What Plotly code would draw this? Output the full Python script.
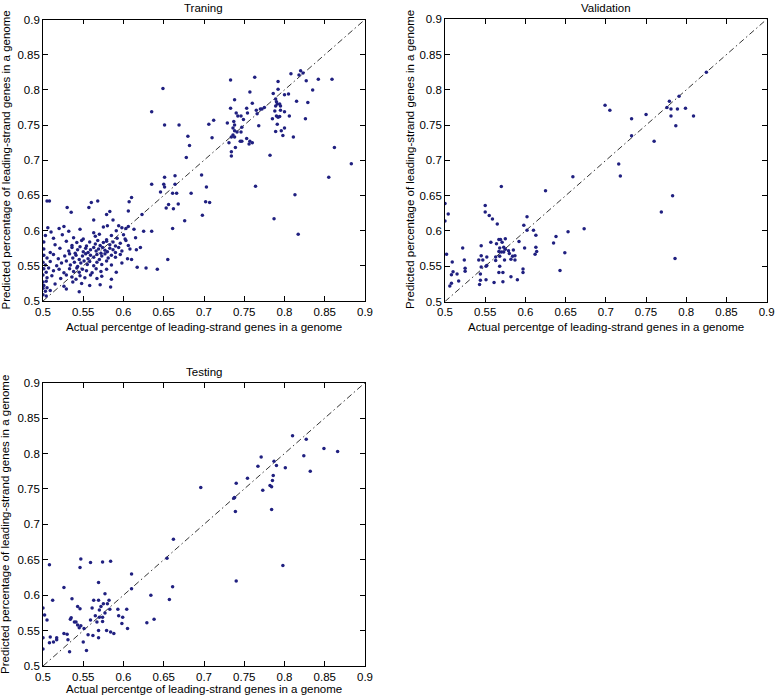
import plotly.graph_objects as go

# ---------------- data ----------------
tick_vals = [0.5, 0.55, 0.6, 0.65, 0.7, 0.75, 0.8, 0.85, 0.9]
tick_text = ["0.5", "0.55", "0.6", "0.65", "0.7", "0.75", "0.8", "0.85", "0.9"]

panel_titles = ["Traning", "Validation", "Testing"]
x_label = "Actual percentge of leading-strand genes in a genome"
y_label = "Predicted percentage of leading-strand genes in a genome"

# Training: high group / outliers
train_hi_x = [0.649, 0.635, 0.651, 0.669, 0.680, 0.682, 0.678,
              0.733, 0.763, 0.808, 0.818, 0.820, 0.823, 0.792, 0.827, 0.842, 0.859,
              0.757, 0.792, 0.786, 0.800, 0.805, 0.835, 0.738, 0.789, 0.815, 0.829,
              0.760, 0.790, 0.791, 0.794, 0.733, 0.753, 0.765, 0.770, 0.772, 0.775,
              0.789, 0.795, 0.788, 0.795, 0.800, 0.740, 0.754, 0.742, 0.746, 0.766,
              0.790, 0.792, 0.794, 0.806, 0.785, 0.749, 0.712, 0.729, 0.737, 0.706,
              0.738, 0.791, 0.826, 0.736, 0.747, 0.768, 0.800, 0.738, 0.741, 0.746,
              0.789, 0.796, 0.734, 0.736, 0.738, 0.798, 0.811, 0.753, 0.710, 0.745,
              0.747, 0.757, 0.731, 0.756, 0.760, 0.739, 0.862, 0.734, 0.734, 0.782,
              0.883,
              0.697, 0.703, 0.764, 0.855, 0.813, 0.702, 0.707, 0.698, 0.787, 0.817]
train_hi_y = [0.802, 0.769, 0.750, 0.750, 0.734, 0.721, 0.704,
              0.814, 0.818, 0.823, 0.821, 0.827, 0.824, 0.812, 0.813, 0.815, 0.815,
              0.797, 0.801, 0.795, 0.793, 0.794, 0.800, 0.786, 0.787, 0.784, 0.782,
              0.781, 0.783, 0.780, 0.780, 0.774, 0.774, 0.771, 0.773, 0.773, 0.775,
              0.777, 0.777, 0.770, 0.771, 0.769, 0.767, 0.767, 0.763, 0.763, 0.766,
              0.763, 0.761, 0.762, 0.763, 0.759, 0.758, 0.757, 0.753, 0.755, 0.751,
              0.750, 0.751, 0.759, 0.746, 0.747, 0.749, 0.746, 0.742, 0.740, 0.740,
              0.741, 0.742, 0.733, 0.736, 0.733, 0.735, 0.733, 0.731, 0.732, 0.727,
              0.727, 0.727, 0.725, 0.723, 0.725, 0.718, 0.718, 0.712, 0.706, 0.707,
              0.695,
              0.679, 0.662, 0.663, 0.676, 0.651, 0.641, 0.640, 0.622, 0.617, 0.595]

# Training: middle zone
train_mid_x = [0.651, 0.664, 0.635, 0.650, 0.651, 0.664, 0.646, 0.661, 0.666, 0.684,
               0.610, 0.607, 0.668, 0.656, 0.653, 0.662, 0.676, 0.606, 0.623, 0.635,
               0.661, 0.625, 0.613, 0.606, 0.615, 0.621, 0.616, 0.655, 0.628, 0.642,
               0.617, 0.610,
               0.505, 0.508, 0.530, 0.560, 0.568, 0.557, 0.535, 0.583, 0.579, 0.563,
               0.587, 0.580, 0.594, 0.598, 0.603]
train_mid_y = [0.676, 0.678, 0.666, 0.666, 0.662, 0.666, 0.655, 0.653, 0.653, 0.653,
               0.647, 0.641, 0.638, 0.637, 0.632, 0.631, 0.614, 0.628, 0.623, 0.599,
               0.603, 0.599, 0.602, 0.606, 0.590, 0.576, 0.573, 0.559, 0.547, 0.545,
               0.548, 0.559,
               0.642, 0.642, 0.633, 0.640, 0.642, 0.633, 0.626, 0.627, 0.623, 0.615,
               0.615, 0.607, 0.607, 0.604, 0.603]

# Training: dense cluster
train_low_x = [0.506, 0.510, 0.520, 0.526, 0.532, 0.546, 0.563, 0.575, 0.591,
               0.503, 0.513, 0.524, 0.538, 0.550, 0.565, 0.570, 0.579, 0.585, 0.592, 0.600, 0.602,
               0.501, 0.515, 0.529, 0.536, 0.542, 0.548, 0.554, 0.558, 0.565, 0.568, 0.571, 0.575,
               0.579, 0.583, 0.587, 0.590, 0.596, 0.603, 0.606,
               0.501, 0.509, 0.521, 0.532, 0.536, 0.540, 0.543, 0.546, 0.550, 0.553, 0.556, 0.559,
               0.563, 0.566, 0.569, 0.572, 0.574, 0.577, 0.580, 0.583, 0.587, 0.590, 0.594, 0.598, 0.608,
               0.501, 0.505, 0.513, 0.519, 0.527, 0.533, 0.537, 0.541, 0.545, 0.549, 0.553, 0.556,
               0.559, 0.563, 0.567, 0.570, 0.573, 0.577, 0.581, 0.585, 0.590, 0.596, 0.605,
               0.500, 0.503, 0.509, 0.517, 0.523, 0.529, 0.534, 0.539, 0.543, 0.547, 0.551, 0.555,
               0.558, 0.563, 0.567, 0.573, 0.579, 0.585, 0.598,
               0.501, 0.504, 0.507, 0.513, 0.520, 0.526, 0.533, 0.538, 0.542, 0.545, 0.549, 0.554,
               0.561, 0.566, 0.572, 0.579, 0.591,
               0.500, 0.505, 0.511, 0.522, 0.529, 0.536, 0.541, 0.546, 0.552, 0.559, 0.567, 0.573, 0.585,
               0.500, 0.501, 0.504, 0.515, 0.526, 0.537, 0.548, 0.558, 0.571, 0.584,
               0.500, 0.503, 0.505, 0.509, 0.529, 0.545,
               0.500, 0.504]
train_low_y = [0.604, 0.598, 0.603, 0.606, 0.599, 0.602, 0.597, 0.605, 0.600,
               0.593, 0.589, 0.594, 0.590, 0.588, 0.592, 0.595, 0.587, 0.593, 0.589, 0.594, 0.588,
               0.584, 0.580, 0.585, 0.579, 0.583, 0.586, 0.578, 0.584, 0.581, 0.586, 0.579, 0.583,
               0.585, 0.580, 0.584, 0.578, 0.582, 0.586, 0.579,
               0.574, 0.569, 0.575, 0.571, 0.576, 0.568, 0.573, 0.577, 0.570, 0.575, 0.569, 0.573,
               0.576, 0.571, 0.574, 0.568, 0.576, 0.572, 0.570, 0.575, 0.573, 0.569, 0.576, 0.571, 0.574,
               0.565, 0.561, 0.566, 0.560, 0.564, 0.567, 0.561, 0.565, 0.559, 0.564, 0.567, 0.560,
               0.565, 0.562, 0.566, 0.559, 0.564, 0.567, 0.561, 0.565, 0.562, 0.566, 0.560,
               0.555, 0.551, 0.556, 0.550, 0.554, 0.557, 0.551, 0.555, 0.549, 0.554, 0.557, 0.552,
               0.556, 0.550, 0.555, 0.552, 0.557, 0.551, 0.554,
               0.546, 0.541, 0.547, 0.543, 0.545, 0.540, 0.546, 0.542, 0.547, 0.541, 0.545, 0.543,
               0.540, 0.546, 0.542, 0.545, 0.541,
               0.537, 0.533, 0.536, 0.532, 0.537, 0.534, 0.531, 0.536, 0.533, 0.537, 0.532, 0.535, 0.531,
               0.527, 0.522, 0.528, 0.524, 0.521, 0.527, 0.525, 0.522, 0.523, 0.520,
               0.518, 0.514, 0.519, 0.515, 0.517, 0.513,
               0.509, 0.507]

# Validation
valid_x = [0.699, 0.705, 0.732, 0.750, 0.732, 0.760, 0.779, 0.791, 0.776, 0.781, 0.789, 0.799,
           0.781, 0.809, 0.787, 0.825, 0.716, 0.718, 0.783, 0.769, 0.786,
           0.659, 0.570, 0.625, 0.500, 0.504, 0.500, 0.550, 0.550, 0.555, 0.559, 0.565, 0.602,
           0.598, 0.602, 0.610, 0.613, 0.653, 0.673, 0.638, 0.635, 0.649, 0.643, 0.613, 0.614,
           0.612, 0.599, 0.592, 0.575, 0.567, 0.569, 0.571, 0.564, 0.557, 0.545, 0.522, 0.502,
           0.568, 0.573, 0.567, 0.570, 0.573, 0.575, 0.579, 0.585, 0.587, 0.584, 0.582, 0.587,
           0.580, 0.563, 0.568, 0.574, 0.563, 0.552, 0.542, 0.547, 0.545, 0.524, 0.509, 0.545,
           0.551, 0.552, 0.525, 0.525, 0.515, 0.510, 0.508, 0.568, 0.597, 0.597, 0.567, 0.572,
           0.582, 0.544, 0.544, 0.543, 0.551, 0.561, 0.572, 0.590, 0.517, 0.508, 0.506]
valid_y = [0.778, 0.771, 0.759, 0.765, 0.735, 0.727, 0.784, 0.791, 0.775, 0.773, 0.773, 0.774,
           0.763, 0.763, 0.749, 0.825, 0.695, 0.678, 0.650, 0.627, 0.561,
           0.677, 0.663, 0.657, 0.639, 0.624, 0.614, 0.636, 0.627, 0.622, 0.617, 0.610, 0.620,
           0.608, 0.601, 0.601, 0.594, 0.599, 0.603, 0.592, 0.583, 0.569, 0.544, 0.577, 0.571,
           0.567, 0.576, 0.585, 0.589, 0.588, 0.588, 0.584, 0.582, 0.584, 0.579, 0.576, 0.567,
           0.576, 0.577, 0.571, 0.570, 0.570, 0.574, 0.572, 0.573, 0.565, 0.564, 0.560, 0.559,
           0.568, 0.563, 0.564, 0.559, 0.558, 0.563, 0.559, 0.559, 0.565, 0.559, 0.556, 0.549,
           0.550, 0.551, 0.547, 0.543, 0.539, 0.542, 0.538, 0.550, 0.546, 0.541, 0.541, 0.541,
           0.535, 0.539, 0.530, 0.524, 0.531, 0.527, 0.528, 0.531, 0.529, 0.526, 0.522]

# Testing
test_x = [0.696, 0.662, 0.810, 0.827, 0.849, 0.866, 0.824, 0.771, 0.787, 0.790, 0.767, 0.801,
          0.832, 0.786, 0.785, 0.754, 0.740, 0.782, 0.784, 0.773, 0.738, 0.737, 0.739, 0.784,
          0.740, 0.798,
          0.654, 0.547, 0.508, 0.546, 0.559, 0.574, 0.584, 0.610, 0.569, 0.526, 0.610, 0.661,
          0.577, 0.634, 0.657, 0.512, 0.536, 0.563, 0.569, 0.582, 0.580, 0.575, 0.543, 0.546,
          0.561, 0.500, 0.572, 0.570, 0.583, 0.593, 0.604, 0.502, 0.505, 0.577, 0.594, 0.599,
          0.565, 0.535, 0.534, 0.559, 0.570, 0.574, 0.574, 0.567, 0.598, 0.539, 0.541, 0.543,
          0.547, 0.545, 0.605, 0.629, 0.638, 0.551, 0.569, 0.579, 0.584, 0.588, 0.526, 0.530,
          0.556, 0.562, 0.569, 0.500, 0.509, 0.517, 0.517, 0.513, 0.508, 0.550, 0.531, 0.500,
          0.554, 0.533]
test_y = [0.752, 0.679, 0.825, 0.820, 0.807, 0.803, 0.797, 0.795, 0.789, 0.783, 0.782, 0.780,
          0.775, 0.769, 0.762, 0.765, 0.758, 0.755, 0.753, 0.748, 0.738, 0.737, 0.718, 0.721,
          0.620, 0.642,
          0.652, 0.651, 0.643, 0.639, 0.646, 0.647, 0.648, 0.630, 0.618, 0.611, 0.609, 0.612,
          0.602, 0.600, 0.594, 0.593, 0.595, 0.593, 0.593, 0.593, 0.588, 0.588, 0.584, 0.581,
          0.582, 0.582, 0.584, 0.579, 0.580, 0.580, 0.580, 0.572, 0.565, 0.575, 0.571, 0.569,
          0.571, 0.568, 0.566, 0.565, 0.569, 0.569, 0.563, 0.562, 0.560, 0.562, 0.562, 0.558,
          0.557, 0.554, 0.553, 0.561, 0.566, 0.553, 0.550, 0.550, 0.548, 0.546, 0.546, 0.545,
          0.544, 0.543, 0.540, 0.540, 0.541, 0.540, 0.537, 0.534, 0.533, 0.534, 0.537, 0.524,
          0.522, 0.520]

diag = [0.5, 0.9]

# ---------------- figure ----------------
DOT = "rgb(32,32,128)"
FONT = "Liberation Sans, Arial, Helvetica, sans-serif"
FS = 11.5

fig = go.Figure()

panels = [
    (train_hi_x + train_mid_x + train_low_x, train_hi_y + train_mid_y + train_low_y, "x", "y"),
    (valid_x, valid_y, "x2", "y2"),
    (test_x, test_y, "x3", "y3"),
]
for px_, py_, xa, ya in panels:
    fig.add_trace(go.Scatter(x=diag, y=diag, mode="lines", xaxis=xa, yaxis=ya,
                             line=dict(color="black", width=0.8, dash="6px,3px,1.5px,3px"),
                             hoverinfo="skip", showlegend=False))
    fig.add_trace(go.Scatter(x=px_, y=py_, mode="markers", xaxis=xa, yaxis=ya,
                             marker=dict(color=DOT, size=3.5, line=dict(width=0)),
                             showlegend=False))

W, H = 777, 697
xd = {"1": [43 / W, 365 / W], "2": [445 / W, 766.7 / W], "3": [43 / W, 365 / W]}
yd = {"1": [1 - 301 / H, 1 - 19.5 / H], "2": [1 - 301.5 / H, 1 - 19.3 / H], "3": [1 - 666 / H, 1 - 382.7 / H]}

axis_common = dict(range=[0.5, 0.9], tickvals=tick_vals, ticktext=tick_text,
                   ticks="inside", ticklen=5, tickcolor="black", tickwidth=0.8,
                   showline=True, linecolor="black", linewidth=0.8, mirror="ticks",
                   showgrid=False, zeroline=False, automargin=False,
                   tickfont=dict(family=FONT, size=FS, color="black"))

layout = dict(template="none", width=W, height=H, margin=dict(l=0, r=0, t=0, b=0),
              paper_bgcolor="white", plot_bgcolor="white",
              font=dict(family=FONT, size=FS, color="black"))
for i in ["1", "2", "3"]:
    sx = "" if i == "1" else i
    layout["xaxis" + sx] = dict(axis_common, domain=xd[i], anchor="y" + sx)
    layout["yaxis" + sx] = dict(axis_common, domain=yd[i], anchor="x" + sx)
fig.update_layout(**layout)

cx = [(43 + 365) / 2 / W, (445 + 766.7) / 2 / W, (43 + 365) / 2 / W]
title_y = [1 - 8 / H, 1 - 8 / H, 1 - 372 / H]
xlab_y = [1 - 326.5 / H, 1 - 326.5 / H, 1 - 689 / H]
ylab_x = [5.5 / W, 410 / W, 5.5 / W]
ylab_y = [1 - 160 / H, 1 - 160 / H, 1 - 524.4 / H]
for k in range(3):
    fig.add_annotation(text=panel_titles[k], x=cx[k], y=title_y[k], xref="paper", yref="paper",
                       showarrow=False, xanchor="center", yanchor="middle",
                       font=dict(family=FONT, size=FS, color="black"))
    fig.add_annotation(text=x_label, x=cx[k], y=xlab_y[k], xref="paper", yref="paper",
                       showarrow=False, xanchor="center", yanchor="middle",
                       font=dict(family=FONT, size=FS, color="black"))
    fig.add_annotation(text=y_label, x=ylab_x[k], y=ylab_y[k], xref="paper", yref="paper",
                       showarrow=False, xanchor="center", yanchor="middle", textangle=-90,
                       font=dict(family=FONT, size=FS, color="black"))

fig.write_html("out.html", config={"displayModeBar": False},
               post_script="document.body.style.margin='0';document.body.style.overflow='hidden';")
